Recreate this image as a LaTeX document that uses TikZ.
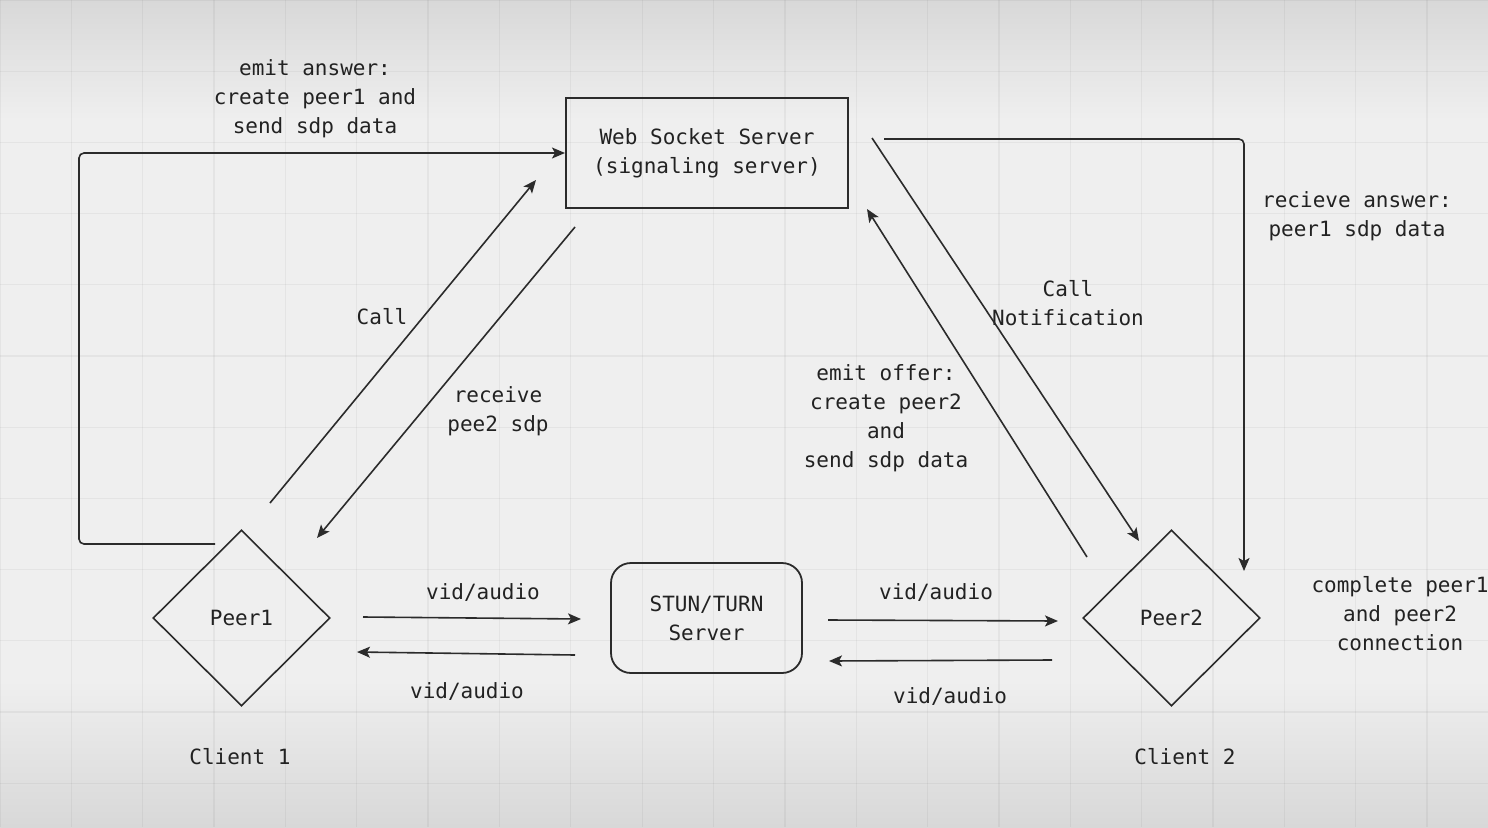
\documentclass[tikz,border=0pt]{standalone}
\usepackage{fontspec}
\setmonofont{DejaVu Sans Mono}
\usetikzlibrary{shapes.geometric,arrows.meta}
\definecolor{bgc}{HTML}{EFEFEF}
\definecolor{bgdark}{HTML}{D8D8D8}
\definecolor{ink}{HTML}{222222}
\definecolor{linec}{HTML}{2B2B2B}
\tikzset{
  lbl/.style={font=\ttfamily\fontsize{21}{29}\selectfont, text=ink, align=center, inner sep=0pt},
  arr/.style={draw=linec, line width=1.6pt, -{Stealth[length=13pt,width=11pt,inset=3pt]}},
  boxn/.style={draw=linec, line width=2pt, minimum width=282pt, minimum height=110pt, lbl},
  roundn/.style={draw=linec, line width=1.8pt, rounded corners=20pt, minimum width=191pt, minimum height=110pt, lbl},
  dia/.style={draw=linec, line width=1.6pt, diamond, minimum width=177pt, minimum height=176pt, lbl},
  gridline/.style={draw=black, draw opacity=0.045, line width=1.3pt}
}
\begin{document}
\begin{tikzpicture}[x=1pt,y=-1pt]
% background
\useasboundingbox (0,0) rectangle (1488,827);
\fill[bgc] (0,0) rectangle (1488,827);
\shade[top color=bgdark, bottom color=bgc] (0,0) rectangle (1488,120);
\shade[top color=bgc, bottom color=bgdark] (0,680) rectangle (1488,827);
\foreach \i in {0,...,21} {\draw[gridline] (\i*71.35,0) -- (\i*71.35,827);}
\foreach \j in {0,...,12} {\draw[gridline] (0,\j*71.2) -- (1488,\j*71.2);}

% nodes
\node[boxn] (ws) at (707,153) {Web Socket Server\\(signaling server)};
\node[roundn] (stun) at (706.5,618) {STUN/TURN\\Server};
\node[dia] (p1) at (241.5,618) {Peer1};
\node[dia] (p2) at (1171.5,618) {Peer2};
\node[lbl] (c1) at (240,757) {Client 1};
\node[lbl] (c2) at (1185,757) {Client 2};

% labels
\node[lbl] (lemit) at (315,99) {emit answer:\\create peer1 and\\send sdp data};
\node[lbl] (lcall) at (382,317) {Call};
\node[lbl] (lrecv) at (498,411) {receive\\pee2 sdp};
\node[lbl] (lnotif) at (1068,303) {Call\\Notification};
\node[lbl] (loffer) at (886,418) {emit offer:\\create peer2\\and\\send sdp data};
\node[lbl] (lans) at (1357,216) {recieve answer:\\peer1 sdp data};
\node[lbl] (lcomp) at (1400,614) {complete peer1\\and peer2\\connection};
\node[lbl] (v1) at (483,592) {vid/audio};
\node[lbl] (v2) at (467,691) {vid/audio};
\node[lbl] (v3) at (936,592) {vid/audio};
\node[lbl] (v4) at (950,696) {vid/audio};

% connector coordinates
\coordinate (l1) at (215,544);
\coordinate (lc) at (79,153);
\coordinate (c1s) at (270,503);
\coordinate (c1e) at (536,180);
\coordinate (r1s) at (575,227);
\coordinate (r1e) at (317,538);
\coordinate (n1s) at (872,138);
\coordinate (n1e) at (1139,541);
\coordinate (o1s) at (1087,557);
\coordinate (o1e) at (867,209);
\coordinate (a1s) at (884,139);
\coordinate (a1e) at (1244,571);
\coordinate (va1) at (363,617);
\coordinate (va2) at (581,619);
\coordinate (vb1) at (575,655);
\coordinate (vb2) at (357,652);
\coordinate (vc1) at (828,620);
\coordinate (vc2) at (1058,621);
\coordinate (vd1) at (1052,660);
\coordinate (vd2) at (829,661);

% connectors
\draw[arr, rounded corners=5pt] (l1) -| (lc) -- (ws.west);
\draw[arr] (c1s) -- (c1e);
\draw[arr] (r1s) -- (r1e);
\draw[arr] (n1s) -- (n1e);
\draw[arr] (o1s) -- (o1e);
\draw[arr, rounded corners=5pt] (a1s) -| (a1e);
\draw[arr] (va1) -- (va2);
\draw[arr] (vb1) -- (vb2);
\draw[arr] (vc1) -- (vc2);
\draw[arr] (vd1) -- (vd2);
\end{tikzpicture}
\end{document}
